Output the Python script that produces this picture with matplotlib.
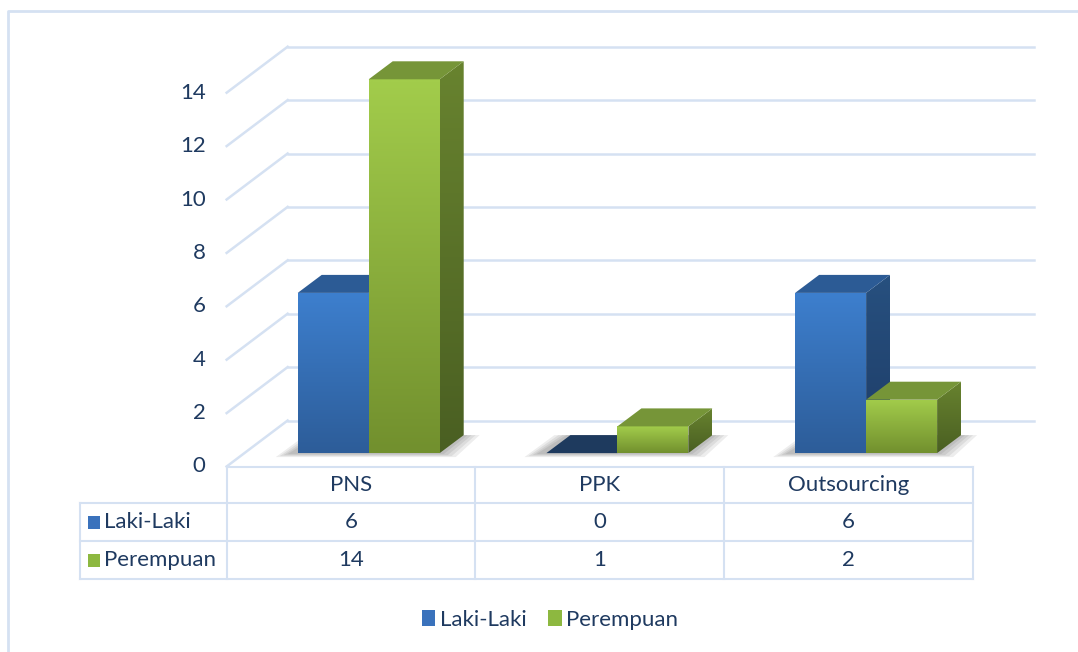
import numpy as np
import matplotlib
matplotlib.use('Agg')
import matplotlib.pyplot as plt
from matplotlib.patches import Polygon, Rectangle, Patch
from matplotlib.lines import Line2D
from matplotlib.colors import to_rgb

# data
categories = ['PNS', 'PPK', 'Outsourcing']
series_names = ['Laki-Laki', 'Perempuan']
laki = [6, 0, 6]
perempuan = [14, 1, 2]
y_ticks = [0, 2, 4, 6, 8, 10, 12, 14]

plt.rcParams['font.family'] = ['Lato', 'DejaVu Sans']
TEXT = '#1F3A60'
GRID = '#D5E1F2'
FS = 16

# pixel layout of the 3d box (category step / value step in px)
W, H = 1078, 652
cat_px, val_px = 248.7, 26.7
x0_px, y0_px = 351, 466.5


def px_x(p):
    return p / cat_px


def px_y(p):
    return p / val_px


wall = (px_x(61), px_y(46))       # front -> back of floor
bar_off = (px_x(17.7), px_y(13.4))  # front -> bar front face
bar_dep = (px_x(24), px_y(18))      # bar depth
bar_w = px_x(71)

styles = [
    dict(front=('#3D7FCE', '#2D5D99'), top='#2C5B95', side=('#27507F', '#1E3D68'), key='#3A72BC'),
    dict(front=('#A2CC4B', '#72902E'), top='#769538', side=('#68832F', '#4A5F22'), key='#8DB840'),
]

fig = plt.figure(figsize=(W / 100, H / 100), dpi=100)
ax = fig.add_axes([0, 0, 1, 1])
ax.axis('off')


def shade(verts, top, bottom, z):
    poly = Polygon(verts, closed=True, facecolor='none', edgecolor='none')
    ax.add_patch(poly)
    xs, ys = zip(*verts)
    c0, c1 = np.array(to_rgb(top)), np.array(to_rgb(bottom))
    g = np.linspace(0, 1, 64)[:, None, None]
    img = c0 + (c1 - c0) * g
    im = ax.imshow(img, extent=(min(xs), max(xs), min(ys), max(ys)), origin='upper',
                   aspect='auto', interpolation='bilinear', zorder=z)
    im.set_clip_path(poly)


# walls / gridlines
left, right = -0.5, len(categories) - 0.5
for v in y_ticks:
    ax.plot([left, left + wall[0]], [v, v + wall[1]], color=GRID, lw=1.8, zorder=1)
    ax.plot([left + wall[0], right + wall[0]], [v + wall[1]] * 2, color=GRID, lw=1.8, zorder=1)
    ax.text(left - px_x(21), v, str(v), ha='right', va='center', fontsize=FS, color=TEXT)

# bars
base = bar_off[1]
for i in range(len(categories)):
    L = i + bar_off[0] - bar_w
    R = i + bar_off[0] + bar_w
    # soft shadow under the pair
    for k in range(1, 5):
        e = px_x(4 * k)
        ey = px_y(1.0 * k)
        ax.add_patch(Polygon([(L - e - px_x(6), base - ey), (R + e, base - ey),
                              (R + bar_dep[0] + e, base + bar_dep[1]),
                              (L + bar_dep[0] - e, base + bar_dep[1])],
                             closed=True, facecolor='black', edgecolor='none',
                             alpha=0.07, zorder=2))
    for s, vals in enumerate([laki, perempuan]):
        v = vals[i]
        st = styles[s]
        x0 = L + s * bar_w
        x1 = x0 + bar_w
        z = 3 + s * 3
        top = base + v
        shade([(x1, base), (x1, top), (x1 + bar_dep[0], top + bar_dep[1]),
               (x1 + bar_dep[0], base + bar_dep[1])], st['side'][0], st['side'][1], z)
        if v > 0:
            shade([(x0, base), (x1, base), (x1, top), (x0, top)],
                  st['front'][0], st['front'][1], z + 1)
        top_col = st['top'] if v > 0 else '#1E3A5E'
        ax.add_patch(Polygon([(x0, top), (x1, top), (x1 + bar_dep[0], top + bar_dep[1]),
                              (x0 + bar_dep[0], top + bar_dep[1])], closed=True,
                             facecolor=top_col, edgecolor='none', zorder=z + 2))

# data table
rows = [(y0_px - p) / val_px for p in (466.5, 503, 541, 579)]
lab_left = px_x(80 - x0_px)
tk = dict(color=GRID, lw=1.5, zorder=1)
ax.plot([left, right], [rows[0]] * 2, **tk)
for r in rows[1:]:
    ax.plot([lab_left, right], [r, r], **tk)
ax.plot([lab_left, lab_left], [rows[1], rows[3]], **tk)
for j in range(len(categories) + 1):
    ax.plot([left + j, left + j], [rows[0], rows[3]], **tk)

for j, c in enumerate(categories):
    ax.text(j, (rows[0] + rows[1]) / 2, c, ha='center', va='center', fontsize=FS, color=TEXT)
for s, vals in enumerate([laki, perempuan]):
    ym = (rows[s + 1] + rows[s + 2]) / 2
    ax.add_patch(Rectangle((lab_left + px_x(8), ym - px_y(6.5)), px_x(12), px_y(13),
                           facecolor=styles[s]['key'], edgecolor='none'))
    ax.text(lab_left + px_x(24), ym, series_names[s], ha='left', va='center',
            fontsize=FS, color=TEXT)
    for j, v in enumerate(vals):
        ax.text(j, ym, str(v), ha='center', va='center', fontsize=FS, color=TEXT)

# legend
handles = [Patch(facecolor=styles[s]['key'], edgecolor='none') for s in range(2)]
fig.legend(handles, series_names, loc='center', bbox_to_anchor=(550 / W, 1 - 620 / H),
           ncol=2, frameon=False, fontsize=FS, handlelength=0.6, handleheight=0.7,
           handletextpad=0.2, columnspacing=1.0, labelcolor=TEXT)

# chart area border
fig.add_artist(Line2D([8 / W, 8 / W, 1], [0, 1 - 11 / H, 1 - 11 / H],
                      transform=fig.transFigure, color=GRID, lw=2))

ax.set_xlim(-x0_px / cat_px, (W - x0_px) / cat_px)
ax.set_ylim(-(H - y0_px) / val_px, y0_px / val_px)

fig.savefig('out.png', dpi=100)
